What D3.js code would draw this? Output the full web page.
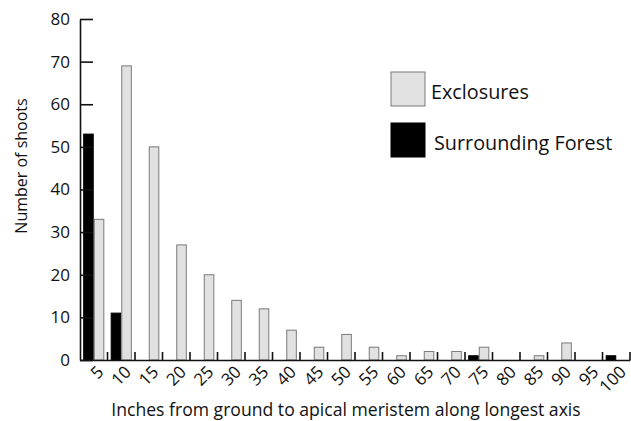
<!DOCTYPE html>
<html>
<head>
<meta charset="utf-8">
<script src="https://cdn.jsdelivr.net/npm/d3@7"></script>
<style>
  body { margin: 0; background: #fff; }
  svg { font-family: "Open Sans", "Noto Sans", sans-serif; }
</style>
</head>
<body>
<svg id="chart" width="631" height="421"></svg>
<script>
// height classes (inches) and counts per class
const heightClasses = ['5', '10', '15', '20', '25', '30', '35', '40', '45', '50',
  '55', '60', '65', '70', '75', '80', '85', '90', '95', '100'];
const exclosures = [33, 69, 50, 27, 20, 14, 12, 7, 3, 6, 3, 1, 2, 2, 3, 0, 1, 4, 0, 0];
const forest = [53, 11, 0, 0, 0, 0, 0, 0, 0, 0, 0, 0, 0, 0, 1, 0, 0, 0, 0, 1];
const seriesNames = ['Surrounding Forest', 'Exclosures'];
const yTicks = [0, 10, 20, 30, 40, 50, 60, 70, 80];

const width = 631;
const height = 421;
const margin = { top: 19, right: 1, bottom: 61, left: 80 };

const svg = d3.select('#chart');

const x = d3.scaleBand()
  .domain(heightClasses)
  .range([margin.left, width - margin.right])
  .padding(0);

const x1 = d3.scaleBand()
  .domain(seriesNames)
  .range([0, x.bandwidth()])
  .paddingInner(0)
  .paddingOuter(0.3);

const y = d3.scaleLinear()
  .domain([0, 80])
  .range([height - margin.bottom, margin.top]);

const fill = { 'Surrounding Forest': '#000', 'Exclosures': '#e1e1e1' };
const stroke = { 'Surrounding Forest': '#000', 'Exclosures': '#7a7a7a' };

const rows = heightClasses.map((h, i) => ({
  h,
  values: [
    { key: 'Surrounding Forest', value: forest[i] },
    { key: 'Exclosures', value: exclosures[i] }
  ]
}));

// bars
const groups = svg.append('g')
  .selectAll('g')
  .data(rows)
  .join('g')
  .attr('transform', d => `translate(${x(d.h)},0)`);

groups.selectAll('rect')
  .data(d => d.values.filter(v => v.value > 0))
  .join('rect')
  .attr('x', d => x1(d.key) + 0.5)
  .attr('y', d => y(d.value))
  .attr('width', x1.bandwidth() - 1)
  .attr('height', d => y(0) - y(d.value))
  .attr('fill', d => fill[d.key])
  .attr('stroke', d => stroke[d.key])
  .attr('stroke-width', 1);

// y axis, ticks pointing inward
const yAxis = svg.append('g')
  .attr('transform', `translate(${margin.left},0)`)
  .call(d3.axisLeft(y).tickValues(yTicks).tickSizeInner(-13).tickSizeOuter(0).tickPadding(10));
yAxis.selectAll('text')
  .attr('font-size', 17)
  .attr('fill', '#111')
  .attr('font-family', '"Open Sans", sans-serif');
yAxis.selectAll('line, path').attr('stroke', '#111').attr('stroke-width', 1.6);

// x axis: labels under each class, ticks between classes
const xAxis = svg.append('g')
  .attr('transform', `translate(0,${y(0)})`)
  .call(d3.axisBottom(x).tickSize(0).tickSizeOuter(0));
xAxis.select('.domain').attr('stroke', '#111').attr('stroke-width', 1.6);
xAxis.selectAll('.tick text')
  .attr('font-size', 17)
  .attr('fill', '#111')
  .attr('font-family', '"Open Sans", sans-serif')
  .attr('text-anchor', 'end')
  .attr('y', 0)
  .attr('dy', 0)
  .attr('transform', 'translate(11,13) rotate(-45)');

svg.append('g')
  .selectAll('line')
  .data(heightClasses)
  .join('line')
  .attr('x1', d => x(d) + x.step())
  .attr('x2', d => x(d) + x.step())
  .attr('y1', y(0))
  .attr('y2', y(0) - 8)
  .attr('stroke', '#111')
  .attr('stroke-width', 1.6);

// axis titles
svg.append('text')
  .attr('transform', 'translate(27,166) rotate(-90)')
  .attr('text-anchor', 'middle')
  .attr('font-size', 16)
  .attr('fill', '#111')
  .text('Number of shoots');

svg.append('text')
  .attr('x', 346)
  .attr('y', 416)
  .attr('text-anchor', 'middle')
  .attr('font-size', 17.6)
  .attr('fill', '#111')
  .text('Inches from ground to apical meristem along longest axis');

// legend
const legend = svg.append('g')
  .selectAll('g')
  .data(['Exclosures', 'Surrounding Forest'])
  .join('g')
  .attr('transform', (d, i) => `translate(391,${72 + i * 51})`);

legend.append('rect')
  .attr('width', 34)
  .attr('height', 34)
  .attr('fill', d => fill[d])
  .attr('stroke', d => stroke[d])
  .attr('stroke-width', 1);

legend.append('text')
  .attr('x', (d, i) => i === 0 ? 40 : 43)
  .attr('y', 27)
  .attr('font-size', 19.8)
  .attr('fill', '#111')
  .text(d => d);
</script>
</body>
</html>
